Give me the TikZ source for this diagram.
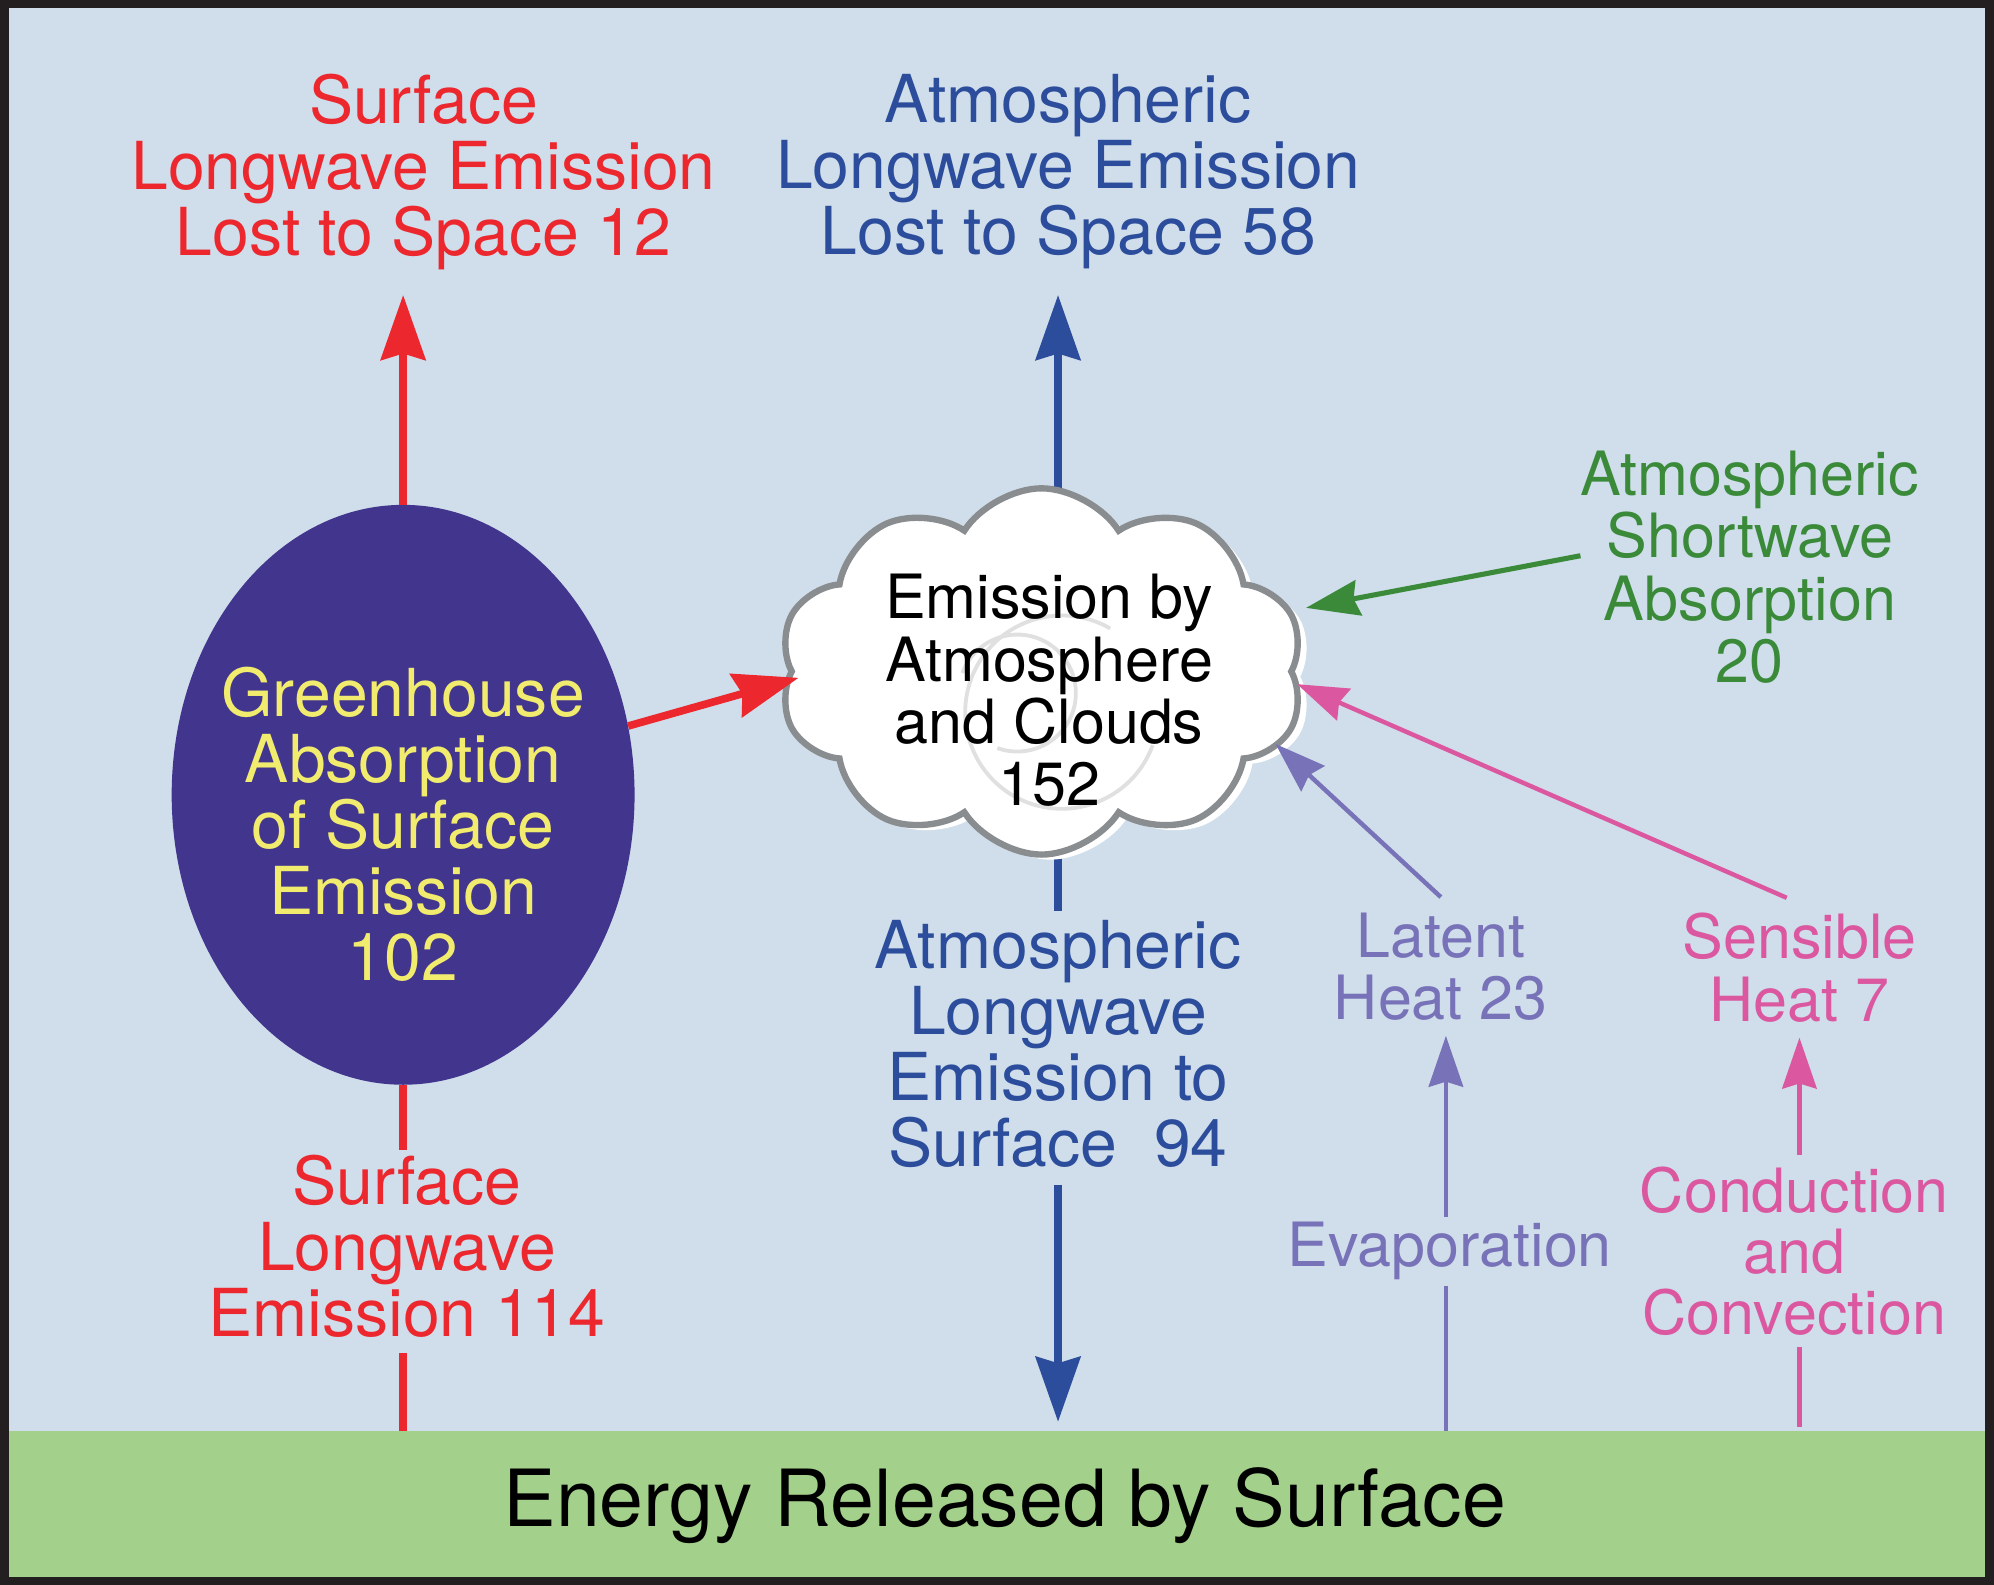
\documentclass[tikz,border=0pt]{standalone}
\usepackage{fontspec}
\setmainfont{TeX Gyre Heros}
\usetikzlibrary{arrows.meta,shapes.geometric,shapes.symbols}
\definecolor{bgc}{RGB}{207,222,234}
\definecolor{framec}{RGB}{35,31,32}
\definecolor{groundc}{RGB}{163,208,138}
\definecolor{redc}{RGB}{236,40,46}
\definecolor{bluec}{RGB}{44,76,156}
\definecolor{ghc}{RGB}{66,53,142}
\definecolor{yelc}{RGB}{242,236,110}
\definecolor{grnc}{RGB}{58,138,58}
\definecolor{purc}{RGB}{120,114,184}
\definecolor{pinkc}{RGB}{219,88,160}
\definecolor{cloudc}{RGB}{138,141,144}
\begin{document}
\begin{tikzpicture}[x=1pt,y=-1pt,
  big/.style={font=\fontsize{52}{52}\selectfont, align=center, inner sep=0pt},
  mid/.style={font=\fontsize{48}{49}\selectfont, align=center, inner sep=0pt},
  thickA/.style={line width=6pt, -{Stealth[length=51pt,width=35pt,inset=5pt]}},
  thickL/.style={line width=6pt},
  thinA/.style={line width=3.5pt, -{Stealth[length=40pt,width=27pt,inset=4pt]}},
  thinL/.style={line width=3.5pt},
  cloudbox/.style={cloud, cloud puffs=10, cloud puff arc=115, aspect=1.45, cloud ignores aspect, minimum width=413pt, minimum height=288pt, inner sep=0pt}]
% frame and background
\fill[framec] (0,0) rectangle (1568,1246);
\fill[bgc] (7,6) rectangle (1561,1240);
\node[fill=groundc, minimum width=1554pt, minimum height=115pt, inner sep=0pt, anchor=north west] (ground) at (7,1125) {};
\node[font=\fontsize{62}{62}\selectfont] (ers) at (790,1184) {Energy Released by Surface};

% coordinates
\coordinate (tR) at (317,232);
\coordinate (tB) at (832,232);
\coordinate (cB) at (832,528);
\coordinate (cR) at (628,533);
\coordinate (cG) at (1027,478);
\coordinate (cP) at (1003,585);
\coordinate (cK) at (1020,538);
\coordinate (gR) at (317,1125);
\coordinate (gB) at (832,1118);
\coordinate (gP) at (1137,1125);
\coordinate (gK) at (1415,1122);

% top texts
\node[big, text=redc] (slts) at (333,135) {Surface\\Longwave Emission\\Lost to Space 12};
\node[big, text=bluec] (alts) at (840,135) {Atmospheric\\Longwave Emission\\Lost to Space 58};

% greenhouse ellipse
\node[ellipse, fill=ghc, minimum width=364pt, minimum height=456pt, inner sep=0pt] (gh) at (317,625) {};
\node[big, text=yelc] (ght) at (317,648) {Greenhouse\\Absorption\\of Surface\\Emission\\102};

% other texts
\node[big, text=bluec, inner ysep=7pt] (alwe) at (832,821) {Atmospheric\\Longwave\\Emission to\\Surface\ \ 94};
\node[big, text=redc, inner ysep=4pt] (slwe) at (320,980) {Surface\\Longwave\\Emission 114};
\node[mid, text=grnc] (asa) at (1376,446) {Atmospheric\\Shortwave\\Absorption\\20};
\node[mid, text=purc, inner ysep=12pt] (lat) at (1133,760) {Latent\\Heat 23};
\node[mid, text=pinkc, inner ysep=12pt] (sen) at (1415,761) {Sensible\\Heat 7};
\node[mid, text=purc, inner ysep=4pt] (eva) at (1140,984) {Evaporation};
\node[mid, text=pinkc, inner ysep=9pt, font=\fontsize{48}{48}\selectfont] (cac) at (1411,984) {Conduction\\and\\Convection};

% arrows behind cloud
\draw[redc, thickA] (gh.north) -- (tR);
\draw[bluec, thickA] (cB) -- (tB);
\draw[bluec, thickL] (cB) -- (alwe.north);
\draw[bluec, thickA, shorten <=6pt] (alwe.south) -- (gB);
\draw[redc, thickL, shorten >=8pt] (gR) -- (slwe.south -| gR);
\draw[redc, thickL] (slwe.north -| gR) -- (gh.south);

% cloud
\node[cloudbox, fill=white] (clw) at (826,532) {};
\node[cloudbox, fill=white, draw=cloudc, line width=5pt] (cl) at (819,528) {};
\draw[black!12, line width=3pt] (835,560) ++(20:76) arc[start angle=20, end angle=300, radius=76];
\draw[black!12, line width=3pt] (800,545) ++(200:46) arc[start angle=200, end angle=470, radius=46];
\node[mid] (clt) at (825,543) {Emission by\\Atmosphere\\and Clouds\\152};

% arrows into cloud
\draw[redc, thickA] (gh.17) -- (cR);
\draw[grnc, line width=4pt, -{Stealth[length=42pt,width=28pt,inset=4pt]}] ([yshift=9pt]asa.west) -- (cG);
\draw[purc, thinA] (lat.north) -- (cP);
\draw[pinkc, thinA] ([xshift=-10pt]sen.north) -- (cK);

% vertical heat arrows
\draw[purc, thinL] (gP) -- (eva.south -| gP);
\draw[purc, thinA] (eva.north -| gP) -- (lat.south -| gP);
\draw[pinkc, thinL] (gK) -- (cac.south -| gK);
\draw[pinkc, thinA] (cac.north -| gK) -- (sen.south -| gK);
\end{tikzpicture}
\end{document}
